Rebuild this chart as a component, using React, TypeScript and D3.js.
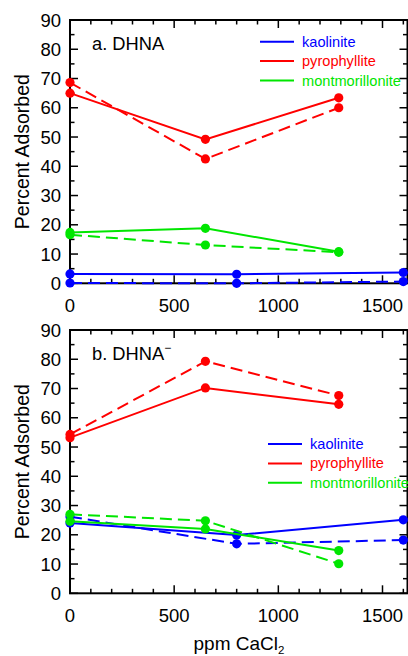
import React from "react";
import * as d3 from "d3";

// ---------- DATA ----------
const xTicksMajor = [0, 500, 1000, 1500];
const yTicksMajor = [0, 10, 20, 30, 40, 50, 60, 70, 80, 90];
const seriesNames = ["kaolinite", "pyrophyllite", "montmorillonite"];
const seriesColors = ["#0000ff", "#ff0000", "#00e600"];

const xKaolinite = [0, 800, 1600];
const xOther = [0, 650, 1290];

// Panel a. DHNA
const aKaoSolid = [3.2, 3.1, 3.7];
const aKaoDashed = [0.1, 0.0, 0.6];
const aPyrSolid = [65.0, 49.2, 63.4];
const aPyrDashed = [68.6, 42.5, 60.0];
const aMonSolid = [17.4, 18.8, 10.8];
const aMonDashed = [16.6, 13.1, 10.6];

// Panel b. DHNA-
const bKaoSolid = [24.0, 19.9, 25.1];
const bKaoDashed = [26.2, 16.9, 18.2];
const bPyrSolid = [53.2, 70.2, 64.6];
const bPyrDashed = [54.3, 79.3, 67.6];
const bMonSolid = [24.6, 22.0, 14.6];
const bMonDashed = [27.0, 24.8, 10.1];

// ---------- LAYOUT ----------
const W = 408;
const H = 656;
const left = 70;
const right = 407.5;
const font = "'Liberation Sans', Arial, sans-serif";

type Series = { xs: number[]; ys: number[]; color: string; dashed: boolean };

function Panel(props: {
  top: number;
  bottom: number;
  label: React.ReactNode;
  labelY: number;
  series: Series[];
  legendX: number;
  legendY: number;
}) {
  const { top, bottom, series } = props;
  const x = d3.scaleLinear().domain([0, 1620]).range([left, right]);
  const y = d3.scaleLinear().domain([0, 90]).range([bottom, top]);
  const xMinor = d3.range(0, 1601, 100);
  const yMinor = d3.range(0, 91, 5);
  const line = d3
    .line<[number, number]>()
    .x((d) => x(d[0]))
    .y((d) => y(d[1]));

  return (
    <g>
      {xMinor.map((v) => {
        const major = v % 500 === 0;
        const len = major ? 8 : 4.5;
        return (
          <g key={"xt" + v} stroke="#000" strokeWidth={1.5}>
            <line x1={x(v)} x2={x(v)} y1={bottom} y2={bottom - len} />
            <line x1={x(v)} x2={x(v)} y1={top} y2={top + len} />
          </g>
        );
      })}
      {yMinor.map((v) => {
        const major = v % 10 === 0;
        const len = major ? 8 : 4.5;
        return (
          <g key={"yt" + v} stroke="#000" strokeWidth={1.5}>
            <line x1={left} x2={left + len} y1={y(v)} y2={y(v)} />
            <line x1={right} x2={right - len} y1={y(v)} y2={y(v)} />
          </g>
        );
      })}
      <rect
        x={left}
        y={top}
        width={right - left}
        height={bottom - top}
        fill="none"
        stroke="#000"
        strokeWidth={2}
      />
      {yTicksMajor.map((v) => (
        <text
          key={"yl" + v}
          x={61}
          y={y(v) + 6.6}
          textAnchor="end"
          fontSize={18.5}
          fontFamily={font}
          fill="#000"
        >
          {v}
        </text>
      ))}
      {xTicksMajor.map((v) => (
        <text
          key={"xl" + v}
          x={x(v)}
          y={bottom + 28.4}
          textAnchor="middle"
          fontSize={18.5}
          fontFamily={font}
          fill="#000"
        >
          {v}
        </text>
      ))}
      <text
        transform={`translate(28.5,${(top + bottom) / 2}) rotate(-90)`}
        textAnchor="middle"
        fontSize={19.5}
        fontFamily={font}
        fill="#000"
      >
        Percent Adsorbed
      </text>
      <text x={92} y={props.labelY} fontSize={18.3} fontFamily={font} fill="#000">
        {props.label}
      </text>
      {series.map((s, i) => {
        const pts = s.xs.map((xv, j) => [xv, s.ys[j]] as [number, number]);
        return (
          <g key={"s" + i}>
            <path
              d={line(pts) || ""}
              fill="none"
              stroke={s.color}
              strokeWidth={2}
              strokeDasharray={s.dashed ? "12,6" : undefined}
            />
            {pts.map((p, j) => (
              <circle key={j} cx={x(p[0])} cy={y(p[1])} r={4.6} fill={s.color} />
            ))}
          </g>
        );
      })}
      {seriesNames.map((n, i) => {
        const ly = props.legendY + i * 19.4;
        return (
          <g key={"lg" + n}>
            <line
              x1={props.legendX}
              x2={props.legendX + 34}
              y1={ly}
              y2={ly}
              stroke={seriesColors[i]}
              strokeWidth={2}
            />
            <text
              x={props.legendX + 42}
              y={ly + 5}
              fontSize={14.6}
              fontFamily={font}
              fill={seriesColors[i]}
            >
              {n}
            </text>
          </g>
        );
      })}
    </g>
  );
}

export default function App() {
  const [kc, pc, mc] = seriesColors;
  const aSeries: Series[] = [
    { xs: xOther, ys: aPyrDashed, color: pc, dashed: true },
    { xs: xOther, ys: aPyrSolid, color: pc, dashed: false },
    { xs: xOther, ys: aMonDashed, color: mc, dashed: true },
    { xs: xOther, ys: aMonSolid, color: mc, dashed: false },
    { xs: xKaolinite, ys: aKaoDashed, color: kc, dashed: true },
    { xs: xKaolinite, ys: aKaoSolid, color: kc, dashed: false },
  ];
  const bSeries: Series[] = [
    { xs: xOther, ys: bPyrDashed, color: pc, dashed: true },
    { xs: xOther, ys: bPyrSolid, color: pc, dashed: false },
    { xs: xKaolinite, ys: bKaoDashed, color: kc, dashed: true },
    { xs: xKaolinite, ys: bKaoSolid, color: kc, dashed: false },
    { xs: xOther, ys: bMonDashed, color: mc, dashed: true },
    { xs: xOther, ys: bMonSolid, color: mc, dashed: false },
  ];
  return (
    <svg
      width={W}
      height={H}
      style={{ position: "absolute", left: 0, top: 0, background: "#fff" }}
    >
      <Panel
        top={20}
        bottom={283.3}
        label="a. DHNA"
        labelY={50}
        series={aSeries}
        legendX={260}
        legendY={41.7}
      />
      <Panel
        top={330}
        bottom={593.3}
        label={
          <>
            b. DHNA
            <tspan dy={-8} fontSize={12}>
              −
            </tspan>
          </>
        }
        labelY={360}
        series={bSeries}
        legendX={268}
        legendY={444}
      />
      <text
        x={239}
        y={649.5}
        textAnchor="middle"
        fontSize={19}
        fontFamily={font}
        fill="#000"
      >
        ppm CaCl
        <tspan dy={4} fontSize={11.5}>
          2
        </tspan>
      </text>
    </svg>
  );
}
